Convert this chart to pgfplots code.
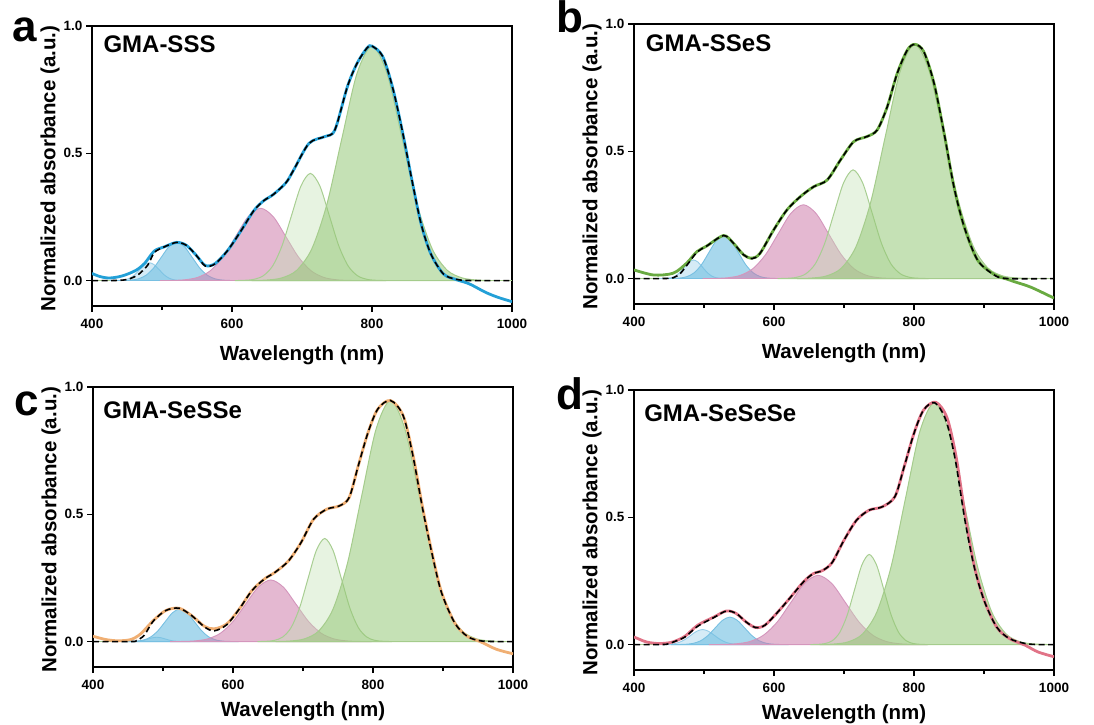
\documentclass[border=0pt]{standalone}
\usepackage{fontspec}
\setmainfont{Liberation Sans}
\usepackage{pgfplots}
\pgfplotsset{compat=1.18}
\definecolor{lbF}{RGB}{150,205,232}
\definecolor{lbL}{RGB}{150,205,232}
\definecolor{bF}{RGB}{110,190,225}
\definecolor{bL}{RGB}{120,192,226}
\definecolor{pF}{RGB}{205,125,172}
\definecolor{pL}{RGB}{212,150,188}
\definecolor{lgF}{RGB}{195,225,180}
\definecolor{lgL}{RGB}{168,206,146}
\definecolor{gF}{RGB}{150,200,120}
\definecolor{gL}{RGB}{165,204,140}
\definecolor{mA}{RGB}{35,160,215}
\definecolor{mB}{RGB}{105,170,65}
\definecolor{mC}{RGB}{240,175,115}
\definecolor{mD}{RGB}{225,115,135}
\pgfplotsset{
  panel/.style={scale only axis, width=420pt, height=280pt,
    xmin=400, xmax=1000, ymin=-0.1, ymax=1.0,
    xtick={400,600,800,1000}, minor xtick={500,700,900}, ytick={0,0.5,1},
    tick pos=left, tick align=outside,
    major tick length=6pt, minor tick length=4pt,
    every tick/.style={black, line width=1.2pt},
    axis line style={line width=1.4pt},
    /pgf/number format/assume math mode=true,
    yticklabel style={/pgf/number format/fixed, /pgf/number format/fixed zerofill, /pgf/number format/precision=1},
    xticklabel style={/pgf/number format/1000 sep={}, yshift=-4pt},
    ticklabel style={font=\bfseries\fontsize{13.5}{15}\selectfont},
    xlabel={Wavelength (nm)}, ylabel={Normalized absorbance (a.u.)},
    label style={font=\bfseries\fontsize{20.5}{24}\selectfont},
    xlabel style={at={(axis description cs:0.5,-0.175)}, anchor=center},
    ylabel style={at={(axis description cs:-0.1,0.49)}, anchor=center}},
  lowrow/.style={xlabel style={at={(axis description cs:0.5,-0.158)}, anchor=center}},
  lbS/.style={smooth, draw=lbL, fill=lbF, fill opacity=0.4, line width=0.9pt},
  bS/.style={smooth, draw=bL, fill=bF, fill opacity=0.6, line width=0.9pt},
  pS/.style={smooth, draw=pL, fill=pF, fill opacity=0.55, line width=0.9pt},
  lgS/.style={smooth, draw=lgL, fill=lgF, fill opacity=0.4, line width=1pt},
  gS/.style={smooth, draw=gL, fill=gF, fill opacity=0.55, line width=1pt},
  measS/.style={smooth, draw=#1, line width=2.8pt},
  fitS/.style={smooth, draw=black, dash pattern=on 6pt off 3.5pt, line width=1.6pt},
  baseS/.style={draw=lgL, line width=1.2pt},
}
\newcommand{\titlefont}{\bfseries\fontsize{24}{28}\selectfont}
\newcommand{\letterfont}{\bfseries\fontsize{44}{48}\selectfont}
\begin{document}
\begin{tikzpicture}[x=1pt,y=1pt]
\path[use as bounding box] (0,0) rectangle (1094,724);
% ---------------- panel a
\begin{axis}[panel, at={(92pt,418pt)}, anchor=south west]
\addplot[baseS] coordinates {(400,0)(1000,0)};
\addplot[lbS] coordinates {(426,0)(433,0.0002)(440,0.0008)(447,0.0031)(454,0.0095)(461,0.0227)(468,0.0425)(475,0.0618)(482,0.070)(489,0.0618)(496,0.0425)(503,0.0227)(510,0.0095)(517,0.0031)(524,0.0008)(531,0.0002)(538,0)} \closedcycle;
\addplot[bS] coordinates {(433,0)(444,0.0003)(455,0.0017)(466,0.0066)(477,0.0204)(488,0.0490)(499,0.0916)(510,0.1333)(521,0.151)(532,0.1333)(543,0.0916)(554,0.0490)(565,0.0204)(576,0.0066)(587,0.0017)(598,0.0003)(609,0)} \closedcycle;
\addplot[pS] coordinates {(497,0)(515,0.0006)(533,0.0032)(551,0.0125)(569,0.0384)(587,0.0922)(605,0.1722)(623,0.2506)(641,0.284)(659,0.2506)(677,0.1722)(695,0.0922)(713,0.0384)(731,0.0125)(749,0.0032)(767,0.0006)(785,0)} \closedcycle;
\addplot[lgS] coordinates {(604,0)(617.5,0.0009)(631,0.0047)(644.5,0.0185)(658,0.0570)(671.5,0.1367)(685,0.2553)(698.5,0.3715)(712,0.421)(725.5,0.3715)(739,0.2553)(752.5,0.1367)(766,0.0570)(779.5,0.0185)(793,0.0047)(806.5,0.0009)(820,0)} \closedcycle;
\addplot[gS] coordinates {(628,0)(649.5,0.0020)(671,0.0102)(692.5,0.0404)(714,0.1246)(735.5,0.2990)(757,0.5586)(778.5,0.8128)(800,0.921)(821.5,0.8128)(843,0.5586)(864.5,0.2990)(886,0.1246)(907.5,0.0404)(929,0.0102)(950.5,0.0020)(972,0)} \closedcycle;
\addplot[measS=mA] coordinates {(400,0.028)(411,0.016)(425,0.010)(443,0.018)(462,0.039)(475,0.067)(489,0.116)(503,0.132)(521,0.150)(535,0.138)(549,0.099)(562,0.059)(576,0.067)(594,0.119)(613,0.196)(631,0.274)(645,0.313)(659,0.338)(677,0.384)(688,0.434)(710,0.539)(733,0.566)(747,0.592)(765,0.763)(779,0.855)(793,0.914)(800,0.921)(815,0.882)(829,0.763)(843,0.592)(857,0.395)(870,0.224)(884,0.105)(902,0.026)(920,0.004)(939,-0.013)(962,-0.046)(980,-0.066)(1000,-0.083)};
\addplot[fitS] coordinates {(400,0)(430,0)(445,0.002)(452,0.005)(466,0.023)(480,0.062)(489,0.110)(503,0.132)(521,0.150)(535,0.138)(549,0.099)(562,0.057)(576,0.066)(594,0.119)(613,0.196)(631,0.274)(645,0.313)(659,0.338)(677,0.384)(688,0.434)(710,0.539)(733,0.566)(747,0.592)(765,0.763)(779,0.855)(793,0.914)(800,0.921)(815,0.882)(829,0.763)(843,0.592)(857,0.395)(870,0.224)(884,0.105)(902,0.026)(920,0.005)(940,0)(1000,0)};
\node[anchor=base west, font=\titlefont] at (axis description cs:0.019,0.904) {GMA-SSS};
\end{axis}
% ---------------- panel b
\begin{axis}[panel, at={(634pt,420pt)}, anchor=south west]
\addplot[baseS] coordinates {(400,0)(1000,0)};
\addplot[lbS] coordinates {(433,0)(439.5,0.0002)(446,0.0008)(452.5,0.0032)(459,0.0099)(465.5,0.0237)(472,0.0443)(478.5,0.0644)(485,0.073)(491.5,0.0644)(498,0.0443)(504.5,0.0237)(511,0.0099)(517.5,0.0032)(524,0.0008)(530.5,0.0002)(537,0)} \closedcycle;
\addplot[bS] coordinates {(444,0)(454.5,0.0004)(465,0.0019)(475.5,0.0074)(486,0.0229)(496.5,0.0549)(507,0.1025)(517.5,0.1491)(528,0.169)(538.5,0.1491)(549,0.1025)(559.5,0.0549)(570,0.0229)(580.5,0.0074)(591,0.0019)(601.5,0.0004)(612,0)} \closedcycle;
\addplot[pS] coordinates {(498,0)(516,0.0006)(534,0.0032)(552,0.0127)(570,0.0392)(588,0.0942)(606,0.1759)(624,0.2559)(642,0.29)(660,0.2559)(678,0.1759)(696,0.0942)(714,0.0392)(732,0.0127)(750,0.0032)(768,0.0006)(786,0)} \closedcycle;
\addplot[lgS] coordinates {(605,0)(618.5,0.0009)(632,0.0047)(645.5,0.0187)(659,0.0578)(672.5,0.1386)(686,0.2590)(699.5,0.3768)(713,0.427)(726.5,0.3768)(740,0.2590)(753.5,0.1386)(767,0.0578)(780.5,0.0187)(794,0.0047)(807.5,0.0009)(821,0)} \closedcycle;
\addplot[gS] coordinates {(633,0)(654,0.0020)(675,0.0102)(696,0.0404)(717,0.1245)(738,0.2987)(759,0.5580)(780,0.8119)(801,0.92)(822,0.8119)(843,0.5580)(864,0.2987)(885,0.1245)(906,0.0404)(927,0.0102)(948,0.0020)(969,0)} \closedcycle;
\addplot[measS=mB] coordinates {(400,0.034)(428,0.014)(456,0.021)(475,0.060)(490,0.106)(504,0.128)(528,0.169)(542,0.139)(556.6,0.093)(568.5,0.080)(580,0.099)(599.5,0.191)(618.6,0.270)(637.7,0.322)(656.8,0.361)(675.9,0.387)(695,0.466)(714,0.538)(733,0.558)(747.5,0.584)(761.8,0.675)(776,0.806)(790.5,0.898)(801.4,0.920)(814,0.891)(828.6,0.767)(843,0.571)(857,0.361)(871.6,0.204)(890.7,0.073)(914.6,0.016)(933.6,-0.003)(943,-0.012)(967,-0.034)(1000,-0.077)};
\addplot[fitS] coordinates {(400,0)(440,0)(456,0.003)(466,0.02)(475,0.05)(490,0.104)(504,0.128)(528,0.169)(542,0.139)(556.6,0.093)(568.5,0.078)(580,0.099)(599.5,0.191)(618.6,0.270)(637.7,0.322)(656.8,0.361)(675.9,0.387)(695,0.466)(714,0.538)(733,0.558)(747.5,0.584)(761.8,0.675)(776,0.806)(790.5,0.898)(801.4,0.920)(814,0.891)(828.6,0.767)(843,0.571)(857,0.361)(871.6,0.204)(890.7,0.073)(914.6,0.014)(933.6,0)(1000,0)};
\node[anchor=base west, font=\titlefont] at (axis description cs:0.02,0.901) {GMA-SSeS};
\end{axis}
% ---------------- panel c
\begin{axis}[panel, lowrow, at={(93pt,57pt)}, anchor=south west]
\addplot[baseS] coordinates {(400,0)(1000,0)};
\addplot[lbS] coordinates {(443,0)(449,0)(455,0.0002)(461,0.0007)(467,0.0023)(473,0.0055)(479,0.0103)(485,0.0150)(491,0.017)(497,0.0150)(503,0.0103)(509,0.0055)(515,0.0023)(521,0.0007)(527,0.0002)(533,0)(539,0)} \closedcycle;
\addplot[bS] coordinates {(440,0)(450.5,0.0003)(461,0.0014)(471.5,0.0056)(482,0.0173)(492.5,0.0416)(503,0.0776)(513.5,0.1130)(524,0.128)(534.5,0.1130)(545,0.0776)(555.5,0.0416)(566,0.0173)(576.5,0.0056)(587,0.0014)(597.5,0.0003)(608,0)} \closedcycle;
\addplot[pS] coordinates {(510,0)(528,0.0005)(546,0.0027)(564,0.0106)(582,0.0327)(600,0.0786)(618,0.1468)(636,0.2136)(654,0.242)(672,0.2136)(690,0.1468)(708,0.0786)(726,0.0327)(744,0.0106)(762,0.0027)(780,0.0005)(798,0)} \closedcycle;
\addplot[lgS] coordinates {(635,0)(647,0.0009)(659,0.0045)(671,0.0178)(683,0.0548)(695,0.1315)(707,0.2456)(719,0.3574)(731,0.405)(743,0.3574)(755,0.2456)(767,0.1315)(779,0.0548)(791,0.0178)(803,0.0045)(815,0.0009)(827,0)} \closedcycle;
\addplot[gS] coordinates {(661,0)(681.5,0.0021)(702,0.0105)(722.5,0.0416)(743,0.1281)(763.5,0.3075)(784,0.5744)(804.5,0.8357)(825,0.947)(845.5,0.8357)(866,0.5744)(886.5,0.3075)(907,0.1281)(927.5,0.0416)(948,0.0105)(968.5,0.0021)(989,0)} \closedcycle;
\addplot[measS=mC] coordinates {(400,0.021)(418,0.008)(436,0.003)(454,0.008)(468,0.030)(486,0.082)(504,0.122)(523,0.131)(541,0.102)(559,0.060)(573,0.050)(591,0.069)(609,0.128)(627,0.200)(645,0.246)(660,0.272)(679,0.316)(697,0.388)(715,0.48)(734,0.52)(752,0.533)(766,0.566)(779,0.691)(793,0.822)(807,0.914)(825,0.947)(843,0.888)(857,0.735)(871,0.525)(885,0.340)(898,0.193)(917,0.072)(935,0.020)(953,0)(976,-0.030)(1000,-0.048)};
\addplot[fitS] coordinates {(400,0)(455,0)(462,0.004)(473,0.024)(486,0.08)(504,0.122)(523,0.131)(541,0.102)(559,0.058)(573,0.042)(591,0.066)(609,0.128)(627,0.200)(645,0.246)(660,0.272)(679,0.316)(697,0.388)(715,0.48)(734,0.52)(752,0.533)(766,0.566)(779,0.691)(793,0.822)(807,0.914)(825,0.947)(843,0.888)(857,0.730)(871,0.52)(885,0.336)(898,0.191)(917,0.072)(935,0.020)(953,0.003)(975,0)(1000,0)};
\node[anchor=base west, font=\titlefont] at (axis description cs:0.016,0.886) {GMA-SeSSe};
\end{axis}
% ---------------- panel d
\begin{axis}[panel, lowrow, at={(634pt,54pt)}, anchor=south west]
\addplot[baseS] coordinates {(400,0)(1000,0)};
\addplot[lbS] coordinates {(430,0)(438.5,0.0001)(447,0.0007)(455.5,0.0026)(464,0.0080)(472.5,0.0192)(481,0.0358)(489.5,0.0521)(498,0.059)(506.5,0.0521)(515,0.0358)(523.5,0.0192)(532,0.0080)(540.5,0.0026)(549,0.0007)(557.5,0.0001)(566,0)} \closedcycle;
\addplot[bS] coordinates {(453,0)(463.5,0.0002)(474,0.0012)(484.5,0.0047)(495,0.0146)(505.5,0.0351)(516,0.0655)(526.5,0.0953)(537,0.108)(547.5,0.0953)(558,0.0655)(568.5,0.0351)(579,0.0146)(589.5,0.0047)(600,0.0012)(610.5,0.0002)(621,0)} \closedcycle;
\addplot[pS] coordinates {(507,0)(526.5,0.0006)(546,0.0030)(565.5,0.0119)(585,0.0368)(604.5,0.0883)(624,0.1650)(643.5,0.2400)(663,0.272)(682.5,0.2400)(702,0.1650)(721.5,0.0883)(741,0.0368)(760.5,0.0119)(780,0.0030)(799.5,0.0006)(819,0)} \closedcycle;
\addplot[lgS] coordinates {(652,0)(662.5,0.0008)(673,0.0039)(683.5,0.0155)(694,0.0479)(704.5,0.1149)(715,0.2147)(725.5,0.3124)(736,0.354)(746.5,0.3124)(757,0.2147)(767.5,0.1149)(778,0.0479)(788.5,0.0155)(799,0.0039)(809.5,0.0008)(820,0)} \closedcycle;
\addplot[gS] coordinates {(665,0)(685.5,0.0021)(706,0.0105)(726.5,0.0417)(747,0.1285)(767.5,0.3085)(788,0.5762)(808.5,0.8384)(829,0.950)(849.5,0.8384)(870,0.5762)(890.5,0.3085)(911,0.1285)(931.5,0.0417)(952,0.0105)(972.5,0.0021)(993,0)} \closedcycle;
\addplot[measS=mD] coordinates {(400,0.030)(418,0.010)(436.5,0.004)(455,0.010)(473,0.033)(491,0.076)(514,0.108)(532,0.132)(546,0.122)(560,0.089)(573.5,0.067)(587,0.076)(605.5,0.128)(624,0.187)(642,0.246)(655.7,0.278)(669.4,0.291)(683,0.322)(700,0.41)(718,0.489)(736,0.528)(754.5,0.541)(772.7,0.581)(786,0.699)(800,0.83)(813.6,0.921)(831,0.952)(847,0.892)(860,0.740)(873.5,0.500)(886,0.310)(900,0.176)(918,0.069)(936,0.024)(959,-0.003)(977,-0.029)(1000,-0.048)};
\addplot[fitS] coordinates {(400,0)(441,0)(450,0.004)(459,0.013)(473,0.030)(491,0.072)(514,0.106)(532,0.132)(546,0.122)(560,0.089)(573.5,0.067)(587,0.076)(605.5,0.128)(624,0.187)(642,0.246)(655.7,0.278)(669.4,0.291)(683,0.322)(700,0.41)(718,0.489)(736,0.528)(754.5,0.541)(772.7,0.581)(786,0.699)(800,0.83)(813.6,0.921)(829.5,0.950)(845.5,0.882)(859,0.725)(872.7,0.489)(886,0.305)(900,0.174)(918,0.069)(936,0.024)(959,0.004)(977,0)(1000,0)};
\node[anchor=base west, font=\titlefont] at (axis description cs:0.016,0.889) {GMA-SeSeSe};
\end{axis}
% panel letters
\node[anchor=base west, font=\letterfont] at (9,682) {a};
\node[anchor=base west, font=\letterfont] at (553,691) {b};
\node[anchor=base west, font=\letterfont] at (11,309) {c};
\node[anchor=base west, font=\letterfont] at (553,315) {d};
\end{tikzpicture}
\end{document}
